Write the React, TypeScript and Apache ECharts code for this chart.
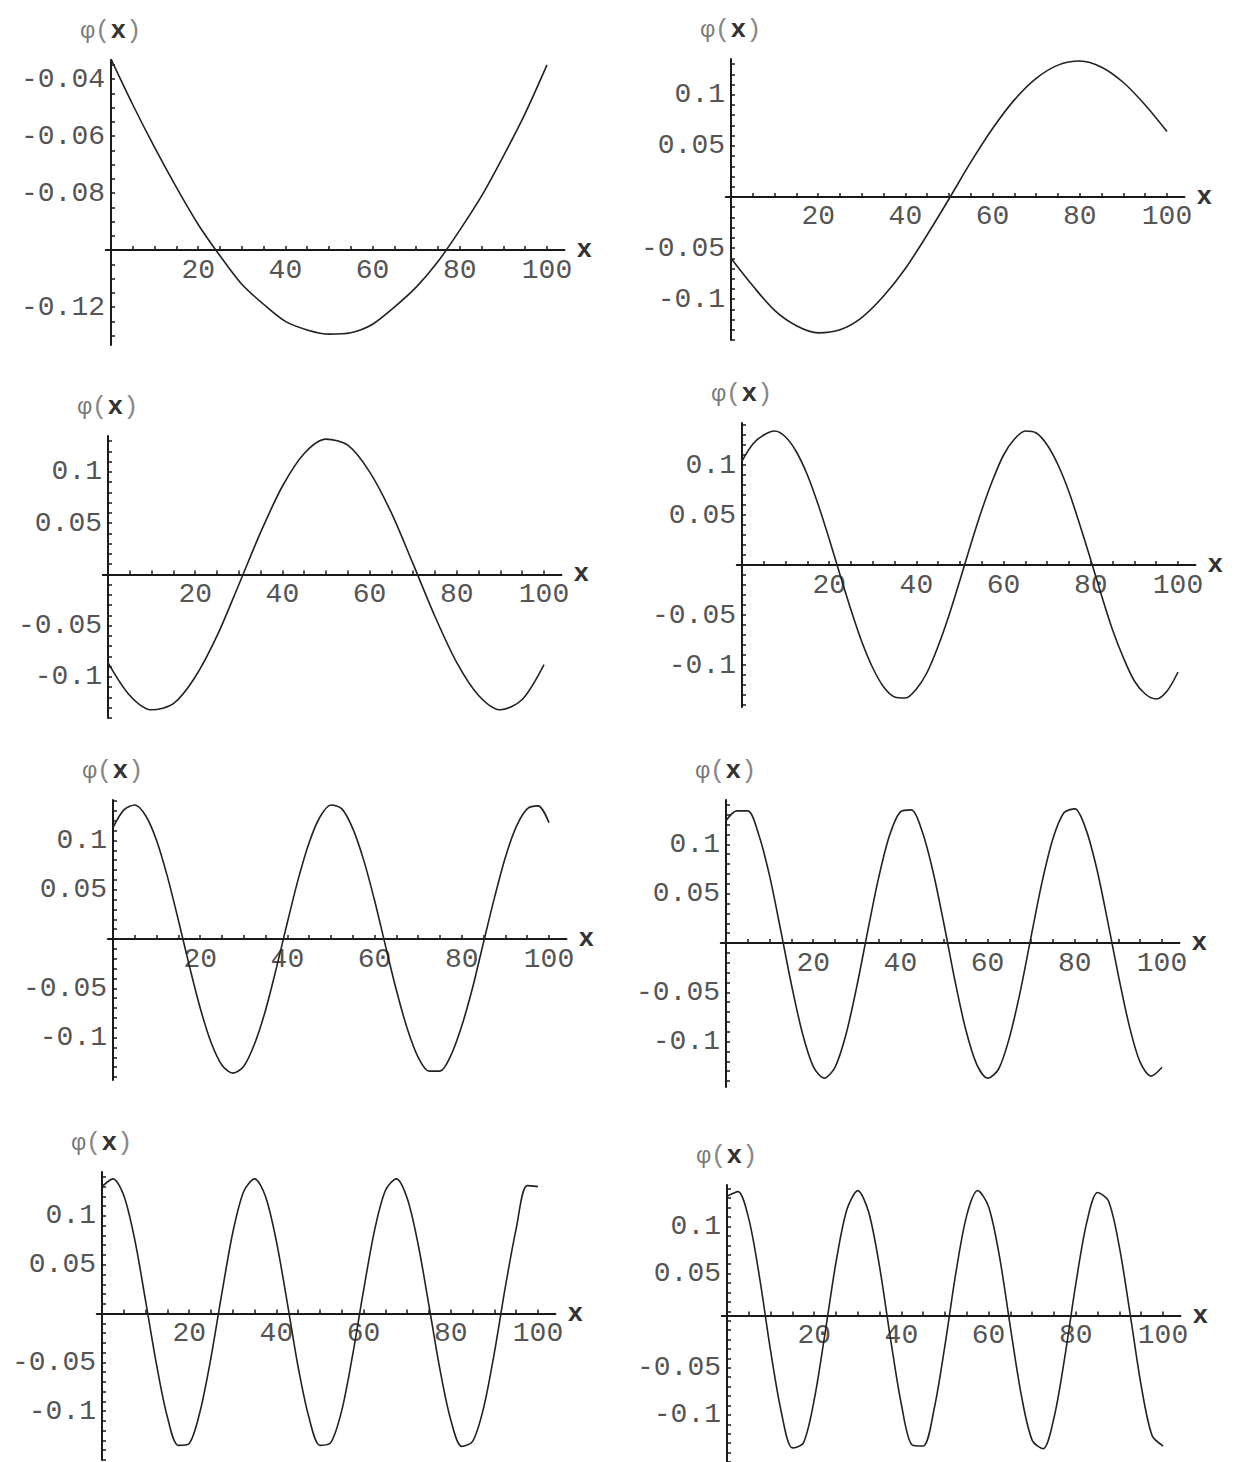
import { useEffect, useRef } from "react";
import * as echarts from "echarts";

// x samples
const xs5 = [0, 5, 10, 15, 20, 25, 30, 35, 40, 45, 50, 55, 60, 65, 70, 75, 80, 85, 90, 95, 100];
const xs25 = [
  0, 2.5, 5, 7.5, 10, 12.5, 15, 17.5, 20, 22.5, 25, 27.5, 30, 32.5, 35, 37.5, 40, 42.5, 45, 47.5, 50,
  52.5, 55, 57.5, 60, 62.5, 65, 67.5, 70, 72.5, 75, 77.5, 80, 82.5, 85, 87.5, 90, 92.5, 95, 97.5, 100,
];

// phi(x) values
const phi1 = [-0.033, -0.049, -0.064, -0.078, -0.091, -0.102, -0.112, -0.119, -0.125, -0.128, -0.1295, -0.129, -0.126, -0.12, -0.113, -0.104, -0.093, -0.081, -0.067, -0.052, -0.035];
const phi2 = [-0.06, -0.087, -0.111, -0.126, -0.133, -0.13, -0.118, -0.097, -0.07, -0.037, -0.002, 0.034, 0.067, 0.095, 0.116, 0.129, 0.133, 0.127, 0.112, 0.09, 0.064];
const phi3 = [-0.086, -0.118, -0.132, -0.126, -0.1, -0.06, -0.01, 0.041, 0.086, 0.118, 0.132, 0.126, 0.1, 0.06, 0.01, -0.041, -0.086, -0.118, -0.132, -0.122, -0.088];
const phi4 = [0.104, 0.121, 0.13, 0.134, 0.128, 0.113, 0.09, 0.06, 0.026, -0.01, -0.045, -0.077, -0.103, -0.122, -0.132, -0.133, -0.124, -0.107, -0.081, -0.05, -0.015, 0.021, 0.055, 0.085, 0.11, 0.126, 0.134, 0.132, 0.12, 0.1, 0.073, 0.04, 0.005, -0.031, -0.065, -0.093, -0.116, -0.129, -0.134, -0.126, -0.107];
const phi5 = [0.113, 0.131, 0.136, 0.125, 0.1, 0.063, 0.019, -0.027, -0.07, -0.105, -0.128, -0.136, -0.129, -0.106, -0.072, -0.029, 0.017, 0.061, 0.098, 0.124, 0.136, 0.132, 0.112, 0.08, 0.039, -0.007, -0.052, -0.091, -0.12, -0.134, -0.134, -0.118, -0.088, -0.049, -0.003, 0.042, 0.083, 0.114, 0.132, 0.135, 0.118];
const phi6 = [0.124, 0.134, 0.134, 0.11, 0.068, 0.014, -0.042, -0.091, -0.125, -0.137, -0.126, -0.093, -0.044, 0.012, 0.066, 0.109, 0.133, 0.135, 0.113, 0.072, 0.019, -0.038, -0.088, -0.123, -0.137, -0.128, -0.096, -0.049, 0.007, 0.062, 0.106, 0.132, 0.136, 0.116, 0.076, 0.023, -0.033, -0.084, -0.121, -0.135, -0.126];
const phi7 = [0.13, 0.138, 0.121, 0.076, 0.013, -0.052, -0.106, -0.135, -0.133, -0.1, -0.045, 0.021, 0.083, 0.125, 0.138, 0.12, 0.074, 0.011, -0.055, -0.107, -0.135, -0.132, -0.099, -0.042, 0.024, 0.085, 0.126, 0.138, 0.118, 0.071, 0.008, -0.057, -0.109, -0.136, -0.131, -0.097, -0.04, 0.027, 0.087, 0.131, 0.13];
const phi8 = [0.132, 0.137, 0.108, 0.045, -0.032, -0.098, -0.135, -0.13, -0.084, -0.013, 0.062, 0.118, 0.138, 0.115, 0.057, -0.019, -0.089, -0.132, -0.133, -0.094, -0.026, 0.051, 0.112, 0.138, 0.121, 0.068, -0.007, -0.079, -0.127, -0.136, -0.103, -0.038, 0.039, 0.104, 0.136, 0.127, 0.078, 0.006, -0.069, -0.122, -0.133];

// tick labels
const xTickLabels = [20, 40, 60, 80, 100];
const xMinorTicks = [5, 10, 15, 20, 25, 30, 35, 40, 45, 50, 55, 60, 65, 70, 75, 80, 85, 90, 95, 100];
const yLabelsFirst = [-0.12, -0.08, -0.06, -0.04];
const yLabelsSym = [-0.1, -0.05, 0.05, 0.1];

const panels = [
  { xs: xs5, ys: phi1, yLabels: yLabelsFirst, cross: -0.1, yStep: 0.005 },
  { xs: xs5, ys: phi2, yLabels: yLabelsSym, cross: 0, yStep: 0.01 },
  { xs: xs5, ys: phi3, yLabels: yLabelsSym, cross: 0, yStep: 0.01 },
  { xs: xs25, ys: phi4, yLabels: yLabelsSym, cross: 0, yStep: 0.01 },
  { xs: xs25, ys: phi5, yLabels: yLabelsSym, cross: 0, yStep: 0.01 },
  { xs: xs25, ys: phi6, yLabels: yLabelsSym, cross: 0, yStep: 0.01 },
  { xs: xs25, ys: phi7, yLabels: yLabelsSym, cross: 0, yStep: 0.01 },
  { xs: xs25, ys: phi8, yLabels: yLabelsSym, cross: 0, yStep: 0.01 },
];

// layout (pixels) and value ranges of each panel
const layout = [
  { ox: 111, top: 60, bottom: 345, yMin: -0.1333, yMax: -0.0333 },
  { ox: 731, top: 59, bottom: 340, yMin: -0.14, yMax: 0.135 },
  { ox: 108, top: 436, bottom: 718, yMin: -0.14, yMax: 0.135 },
  { ox: 742, top: 423, bottom: 707, yMin: -0.142, yMax: 0.142 },
  { ox: 113, top: 800, bottom: 1080, yMin: -0.143, yMax: 0.141 },
  { ox: 726, top: 800, bottom: 1087, yMin: -0.146, yMax: 0.145 },
  { ox: 102, top: 1172, bottom: 1460, yMin: -0.15, yMax: 0.145 },
  { ox: 727, top: 1185, bottom: 1472, yMin: -0.15, yMax: 0.144 },
];

const PX = 4.36;
const X_MIN = -1.2;
const X_MAX = 104;
const FONT = "'Liberation Mono', 'DejaVu Sans Mono', monospace";

function yTicks(yMin: number, yMax: number, step: number): number[] {
  const out: number[] = [];
  const a = Math.ceil(yMin / step - 1e-9);
  const b = Math.floor(yMax / step + 1e-9);
  for (let k = a; k <= b; k++) out.push(Number((k * step).toFixed(4)));
  return out;
}

function buildOption() {
  const grid: any[] = [];
  const xAxis: any[] = [];
  const yAxis: any[] = [];
  const series: any[] = [];
  panels.forEach((p, i) => {
    const l = layout[i];
    const h = l.bottom - l.top;
    const w = (X_MAX - X_MIN) * PX;
    grid.push({ left: l.ox - (0 - X_MIN) * PX, top: l.top, width: w, height: h, containLabel: false });
    xAxis.push({
      type: "value",
      gridIndex: i,
      min: X_MIN,
      max: X_MAX,
      position: "bottom",
      offset: -(h * (p.cross - l.yMin)) / (l.yMax - l.yMin),
      axisLine: { show: true, onZero: false, lineStyle: { color: "#1a1a1a", width: 2 } },
      axisTick: { show: true, inside: true, customValues: xMinorTicks, length: 4, lineStyle: { color: "#1a1a1a", width: 1.5 } },
      axisLabel: { show: true, customValues: xTickLabels, fontFamily: FONT, fontSize: 28, color: "#555", margin: 6 },
      splitLine: { show: false },
      name: "x",
      nameLocation: "end",
      nameGap: 12,
      nameTextStyle: { fontFamily: FONT, fontSize: 26, fontWeight: "bold", color: "#333", verticalAlign: "middle" },
    });
    yAxis.push({
      type: "value",
      gridIndex: i,
      min: l.yMin,
      max: l.yMax,
      position: "left",
      offset: -((0 - X_MIN) * PX),
      axisLine: { show: true, onZero: false, lineStyle: { color: "#1a1a1a", width: 2 } },
      axisTick: { show: true, inside: true, customValues: yTicks(l.yMin, l.yMax, p.yStep), length: 4, lineStyle: { color: "#1a1a1a", width: 1.5 } },
      axisLabel: { show: true, customValues: p.yLabels, fontFamily: FONT, fontSize: 28, color: "#555", margin: 6 },
      splitLine: { show: false },
      name: "{a|φ}{b|(}{c|x}{b|)}",
      nameLocation: "end",
      nameGap: 16,
      nameTextStyle: {
        rich: {
          a: { fontFamily: FONT, fontSize: 24, color: "#777" },
          b: { fontFamily: FONT, fontSize: 26, color: "#888" },
          c: { fontFamily: FONT, fontSize: 26, color: "#333", fontWeight: "bold" },
        },
      },
    });
    series.push({
      type: "line",
      xAxisIndex: i,
      yAxisIndex: i,
      data: p.xs.map((x, j) => [x, p.ys[j]]),
      showSymbol: false,
      smooth: 0.3,
      lineStyle: { color: "#222", width: 1.6 },
      clip: false,
    });
  });
  return { animation: false, backgroundColor: "#ffffff", grid, xAxis, yAxis, series };
}

export default function App() {
  const ref = useRef<HTMLDivElement>(null);
  useEffect(() => {
    if (!ref.current) return;
    const chart = echarts.init(ref.current, undefined, { renderer: "svg" });
    chart.setOption(buildOption() as any);
    return () => chart.dispose();
  }, []);
  return (
    <div
      ref={ref}
      style={{ position: "absolute", left: 0, top: 0, width: 1234, height: 1462, background: "#fff" }}
    />
  );
}
